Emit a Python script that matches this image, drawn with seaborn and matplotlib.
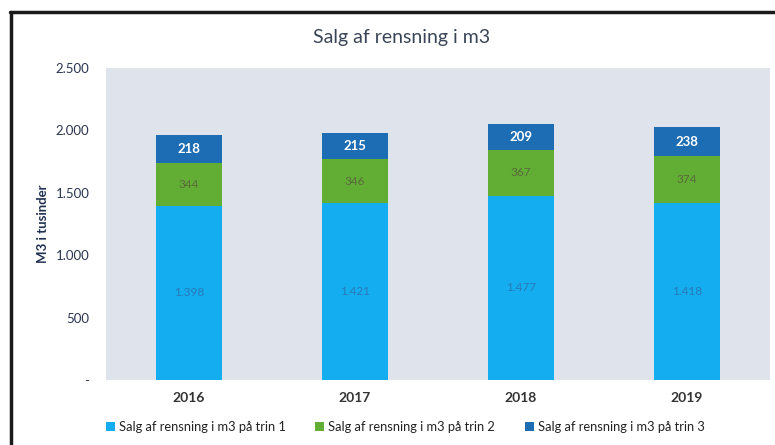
import matplotlib
matplotlib.use("Agg")
import matplotlib.pyplot as plt
import seaborn as sns
import pandas as pd
import numpy as np
from matplotlib.ticker import FuncFormatter
from matplotlib.lines import Line2D
from matplotlib.patches import Patch

years = ["2016", "2017", "2018", "2019"]
trin1 = [1398, 1421, 1477, 1418]
trin2 = [344, 346, 367, 374]
trin3 = [218, 215, 209, 238]
series_names = ["Salg af rensning i m3 på trin 1",
                "Salg af rensning i m3 på trin 2",
                "Salg af rensning i m3 på trin 3"]
title = "Salg af rensning i m3"
ylabel = "M3 i tusinder"

colors = ["#14aef0", "#62ae35", "#1d6db4"]

sns.set_theme(style="white")
plt.rcParams['font.family'] = ['Lato', 'DejaVu Sans']

df = pd.DataFrame({"year": years, "t1": trin1, "t2": trin2, "t3": trin3})
df["c1"] = df["t1"]
df["c2"] = df["t1"] + df["t2"]
df["c3"] = df["c2"] + df["t3"]

fig = plt.figure(figsize=(7.75, 4.45), dpi=100)
ax = fig.add_axes([106/775, 1-380/445, 664/775, 312/445])
ax.set_facecolor("#dfe3ec")

for col, c in zip(["c3", "c2", "c1"], colors[::-1]):
    sns.barplot(data=df, x="year", y=col, color=c, width=0.40,
                saturation=1, ax=ax, order=years, linewidth=0,
                edgecolor="none")

ax.set_ylim(0, 2500)
ax.set_xlim(-0.5, 3.5)
ax.set_yticks([0, 500, 1000, 1500, 2000, 2500])
ax.yaxis.set_major_formatter(FuncFormatter(
    lambda v, p: "-" if v == 0 else f"{int(v):,}".replace(",", ".")))
ax.tick_params(axis="y", length=0, pad=12, labelsize=9.5, labelcolor="#2b3550")
ax.tick_params(axis="x", length=0, pad=9, labelsize=10, labelcolor="#333333")
for lab in ax.get_xticklabels():
    lab.set_fontweight("bold")
ax.set_xlabel("")
ax.set_ylabel("")
for s in ax.spines.values():
    s.set_visible(False)

fmt = lambda v: f"{v:,}".replace(",", ".")
for i in range(len(years)):
    ax.text(i, trin1[i] / 2, fmt(trin1[i]), ha="center", va="center",
            fontsize=8.5, color="#2a78b8")
    ax.text(i, trin1[i] + trin2[i] / 2, fmt(trin2[i]), ha="center", va="center",
            fontsize=8.5, color="#5a6a3a")
    ax.text(i, trin1[i] + trin2[i] + trin3[i] / 2, fmt(trin3[i]), ha="center",
            va="center", fontsize=9.5, color="white", fontweight="bold")

fig.text(402/775, 1-38/445, title, ha="center", va="center", fontsize=14,
         color="#3a4658")
fig.text(43/775, 1-224/445, ylabel, ha="center", va="center", rotation=90,
         fontsize=9.5, color="#1f3050", fontweight="bold")

handles = [Patch(facecolor=c, edgecolor="none") for c in colors]
fig.legend(handles, series_names, loc="center", ncol=3,
           bbox_to_anchor=(405/775, 1-427/445), frameon=False, fontsize=9.3,
           handlelength=0.7, handleheight=0.7, handletextpad=0.3,
           columnspacing=2.3, labelcolor="#222222")

fig.add_artist(Line2D([11/775, 11/775], [0, 1-12/445], color="#1a1a1a",
                      lw=2.5, transform=fig.transFigure))
fig.add_artist(Line2D([10/775, 1], [1-12/445, 1-12/445], color="#1a1a1a",
                      lw=2.5, transform=fig.transFigure))

fig.savefig("out.png", dpi=100)
